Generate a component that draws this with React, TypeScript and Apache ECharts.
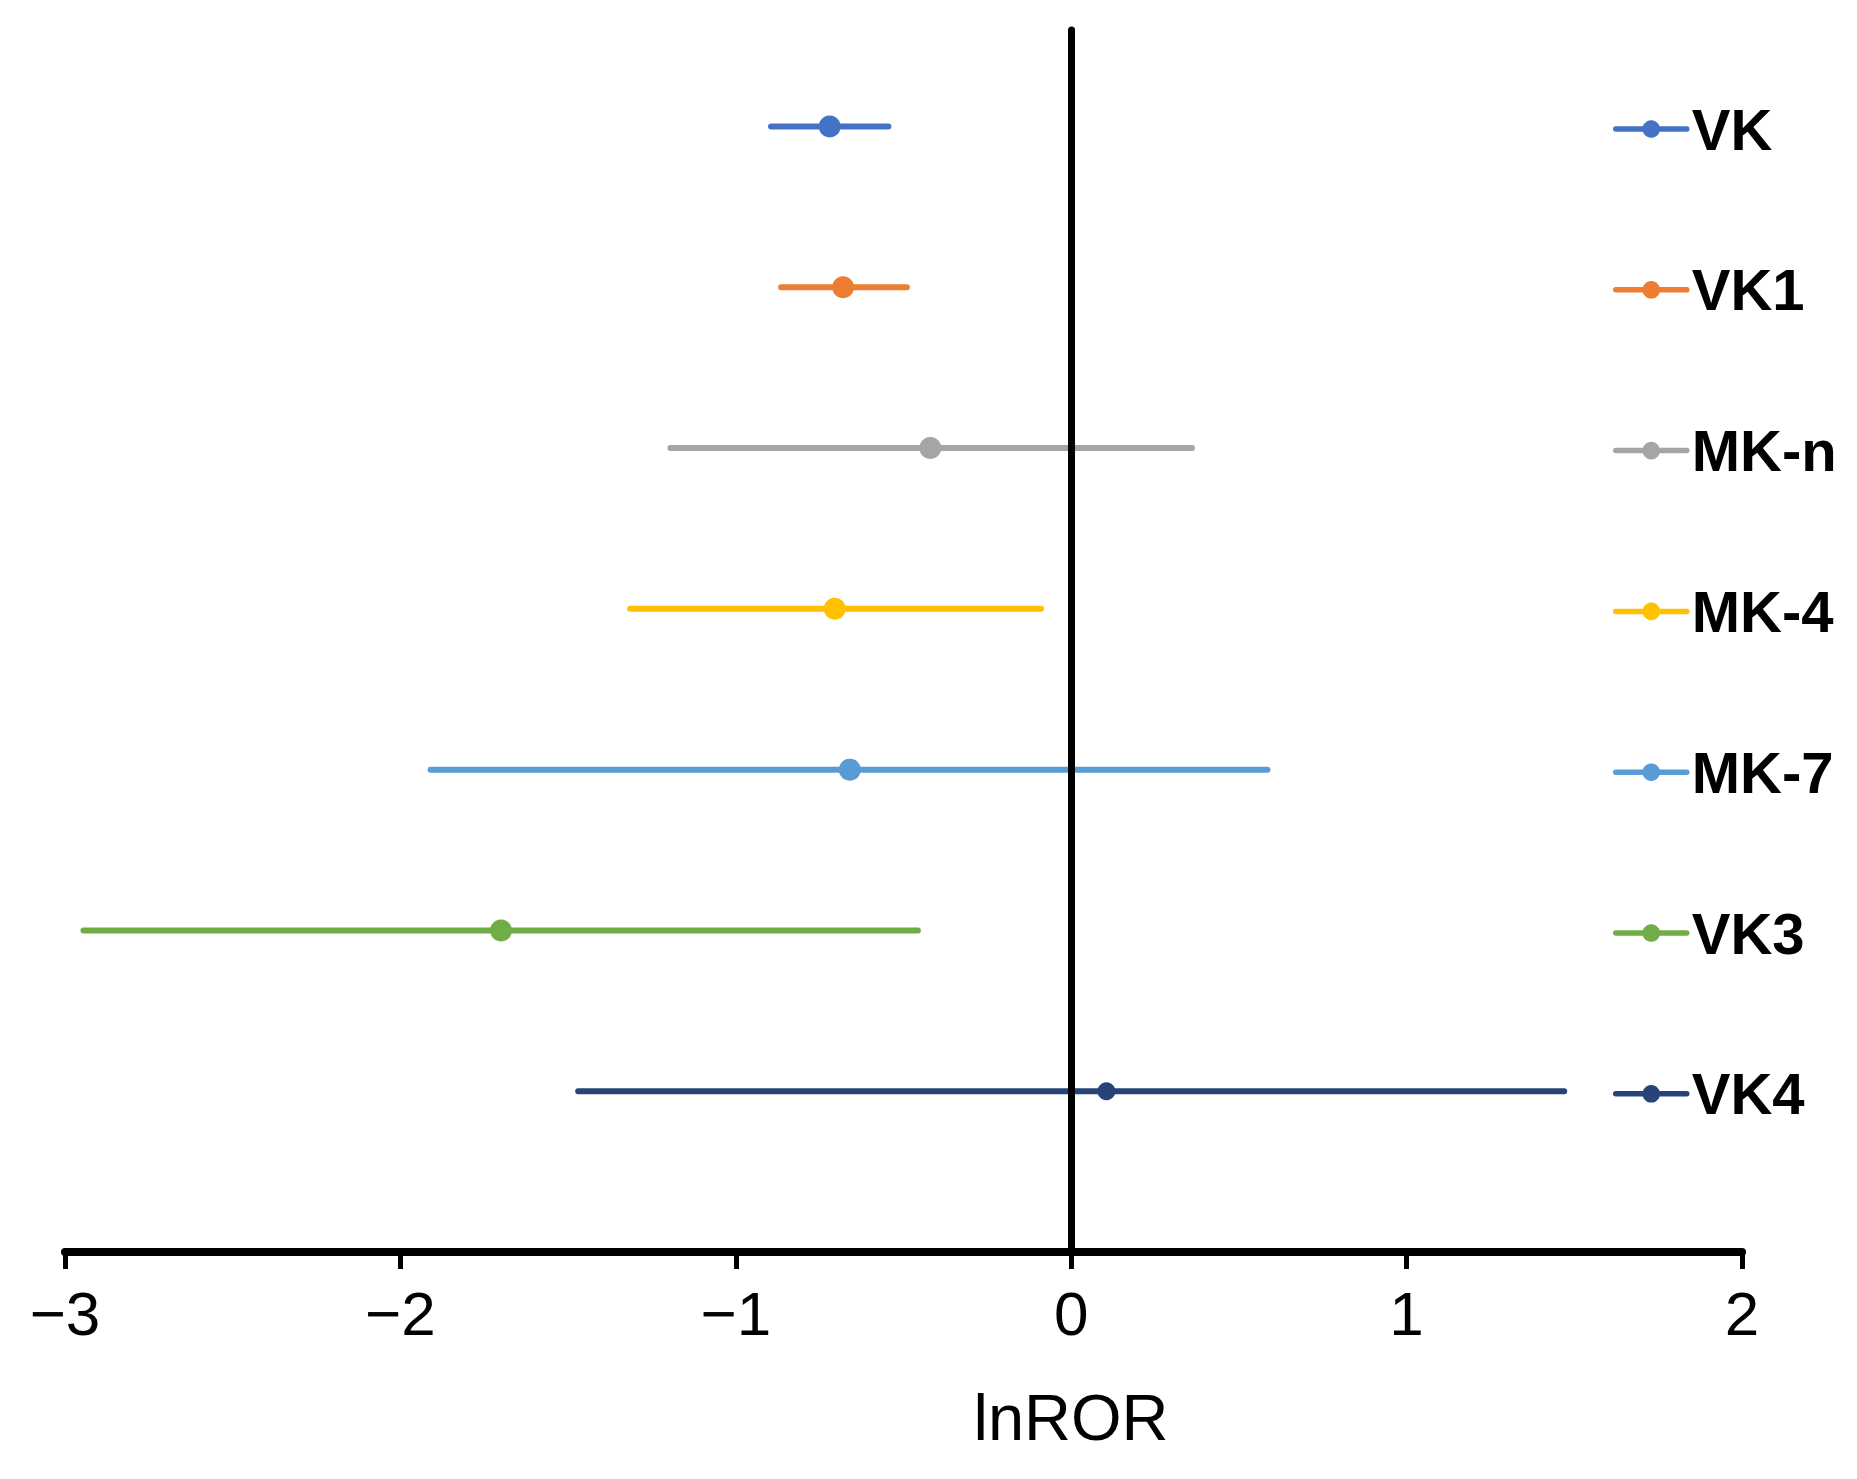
import React, { useEffect, useRef } from "react";
import * as echarts from "echarts";

const categories = ["VK", "VK1", "MK-n", "MK-4", "MK-7", "VK3", "VK4"];
const rowPositions = [7, 6, 5, 4, 3, 2, 1];
const lowerCI = [-0.895, -0.865, -1.195, -1.315, -1.91, -2.945, -1.47];
const estimates = [-0.72, -0.68, -0.42, -0.705, -0.66, -1.7, 0.105];
const upperCI = [-0.545, -0.49, 0.36, -0.09, 0.585, -0.457, 1.47];
const colors = ["#4472C4", "#ED7D31", "#A5A5A5", "#FFC000", "#5B9BD5", "#70AD47", "#264478"];
const markerSizes = [22, 22, 22, 22, 22, 22, 18];
const xTicks = [-3, -2, -1, 0, 1, 2];
const xAxisTitle = "lnROR";

export default function App() {
  const ref = useRef<HTMLDivElement>(null);
  useEffect(() => {
    document.body.style.margin = "0";
    if (!ref.current) return;
    const chart = echarts.init(ref.current, undefined, { renderer: "svg" });
    const series = categories.map((name, i) => ({
      name,
      type: "line",
      data: [
        [lowerCI[i], rowPositions[i]],
        [estimates[i], rowPositions[i]],
        [upperCI[i], rowPositions[i]],
      ],
      symbol: "circle",
      showSymbol: true,
      showAllSymbol: true,
      symbolSize: (_v: any, p: any) => (p.dataIndex === 1 ? markerSizes[i] : 0),
      itemStyle: { color: colors[i] },
      lineStyle: { color: colors[i], width: 6, cap: "round" },
      emphasis: { disabled: true },
      z: 2,
    }));
    chart.setOption({
      animation: false,
      backgroundColor: "#ffffff",
      grid: { left: 65, right: 115, top: 30, bottom: 227, containLabel: false },
      xAxis: {
        type: "value",
        min: xTicks[0],
        max: xTicks[xTicks.length - 1],
        interval: 1,
        axisLine: { show: true, onZero: false, lineStyle: { color: "#000", width: 8 } },
        axisTick: { show: true, length: 17, lineStyle: { color: "#000", width: 5 } },
        axisLabel: {
          fontSize: 62,
          color: "#000",
          margin: 30,
          fontFamily: "'Liberation Sans', Arial, sans-serif",
          formatter: (v: number) => (v < 0 ? "\u2212" + Math.abs(v) : String(v)),
        },
        splitLine: { show: false },
      },
      yAxis: {
        type: "value",
        min: 0,
        max: 7.6,
        z: 10,
        axisLine: { show: true, onZero: true, lineStyle: { color: "#000", width: 7 } },
        axisTick: { show: false },
        axisLabel: { show: false },
        splitLine: { show: false },
      },
      legend: {
        orient: "vertical",
        left: 1613,
        top: 99,
        padding: 0,
        itemWidth: 71,
        itemHeight: 22,
        itemGap: 100.8,
        selectedMode: false,
        data: categories,
        lineStyle: { width: 5.5 },
        textStyle: {
          fontSize: 58,
          fontWeight: "bold",
          color: "#000",
          lineHeight: 60,
          fontFamily: "'Liberation Sans', Arial, sans-serif",
        },
      },
      graphic: [
        {
          type: "text",
          x: 1071,
          y: 1385,
          style: {
            text: xAxisTitle,
            fontSize: 65,
            fill: "#000",
            fontFamily: "'Liberation Sans', Arial, sans-serif",
            align: "center",
            verticalAlign: "top",
          },
        },
      ],
      series,
    });
    return () => chart.dispose();
  }, []);
  return <div ref={ref} style={{ width: 1857, height: 1479 }} />;
}
